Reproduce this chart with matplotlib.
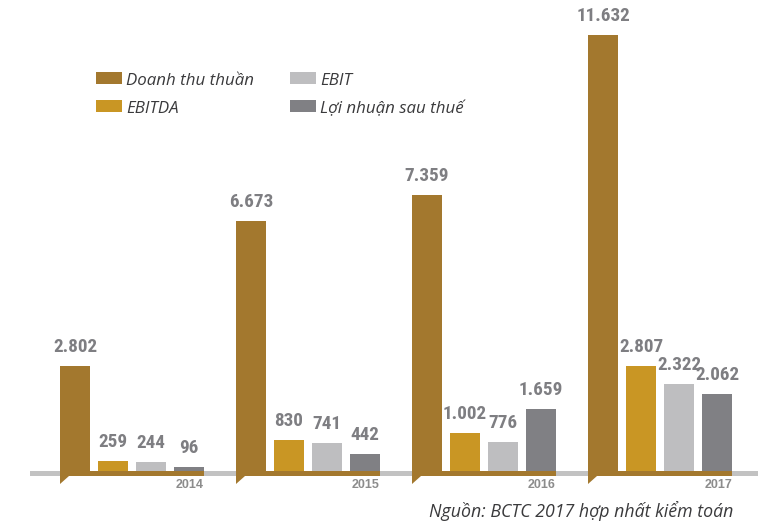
import os
import numpy as np
import matplotlib.pyplot as plt
from matplotlib import font_manager
from matplotlib.patches import Polygon, Rectangle

years = ["2014", "2015", "2016", "2017"]
series = ["Doanh thu thuần", "EBITDA", "EBIT", "Lợi nhuận sau thuế"]
doanh_thu = [2802, 6673, 7359, 11632]
ebitda = [259, 830, 1002, 2807]
ebit = [244, 741, 776, 2322]
loi_nhuan = [96, 442, 1659, 2062]
colors = ["#A3782E", "#C99624", "#BEBEC0", "#808084"]


def narrow_bold():
    # look for a narrow/condensed bold sans face for the value labels
    files = {os.path.basename(f.fname).lower().replace("_", "").replace(" ", ""): f.fname
             for f in font_manager.fontManager.ttflist}
    wanted = [("liberationsansnarrow-bold.", 14),
              ("robotocondensed-bold.", 13.8),
              ("notosans-condensedbold.", 13.8),
              ("opensanscondensed-bold.", 13.8),
              ("opensans-condensedbold.", 13.8)]
    for key, size in wanted:
        for base, path in files.items():
            if base.startswith(key):
                return font_manager.FontProperties(fname=path, size=size)
    return font_manager.FontProperties(family="Roboto", weight="bold", size=12.5)


num_prop = narrow_bold()

W, H = 772, 522
fig = plt.figure(figsize=(W / 100, H / 100), dpi=100)
ax = fig.add_axes([0, 0, 1, 1])
# one year group = 176 px, one px = 26.68 units of value
dx = 1 / 176
dy = 26.68
ax.set_xlim(-132 * dx, (W - 132) * dx)
ax.set_ylim(-51 * dy, (H - 51) * dy)
ax.axis("off")

x = np.arange(len(years))
offsets = np.array([-57, -19, 19, 57]) * dx
bw = 30 * dx

# grey base line across the chart
ax.add_patch(Rectangle((-102 * dx, -4.7 * dy), 728 * dx, 4.7 * dy,
                       color="#C2C2C2", lw=0, zorder=1))

for vals, off, c in zip([doanh_thu, ebitda, ebit, loi_nhuan], offsets, colors):
    ax.bar(x + off, vals, width=bw, color=c, zorder=3)
    for xi, v in zip(x, vals):
        ax.text(xi + off, v + 10 * dy, f"{v:,}".replace(",", "."),
                ha="center", va="bottom", fontproperties=num_prop,
                fontweight="bold", color="#7E7E82")

for xi, yr in zip(x, years):
    left = xi + offsets[0] - bw / 2
    right = xi + offsets[-1] + bw / 2
    # brown strip under each group, with the folded tab under the first bar
    ax.add_patch(Rectangle((left, -5 * dy), right - left, 5 * dy,
                           color=colors[0], lw=0, zorder=2))
    ax.add_patch(Polygon([(left, -5 * dy), (left, -13 * dy), (left + 9 * dx, -5 * dy)],
                         closed=True, color=colors[0], lw=0, zorder=2))
    ax.text(right, -14 * dy, yr, ha="right", va="center", fontsize=9,
            fontweight="bold", family="Liberation Sans", color="#8C8C8C")

# legend drawn by hand: two columns, two rows
leg_font = "Open Sans"
for i, (name, c) in enumerate(zip(series, colors)):
    col, row = divmod(i, 2)
    sx = [96, 290][col]
    sy = [84, 112][row]
    fig.patches.append(Rectangle((sx / W, 1 - sy / H), 26 / W, 12 / H,
                                 transform=fig.transFigure, color=c, lw=0))
    fig.text((sx + 30) / W, 1 - (sy + 1) / H, name, ha="left", va="baseline",
             fontsize=12.2, style="italic", family=leg_font, color="#3A3A3C")

fig.text(733 / W, 1 - 517 / H, "Nguồn: BCTC 2017 hợp nhất kiểm toán",
         ha="right", va="baseline", fontsize=12.8, style="italic",
         family=leg_font, color="#3A3A3C")

fig.savefig("out.png", dpi=100)
